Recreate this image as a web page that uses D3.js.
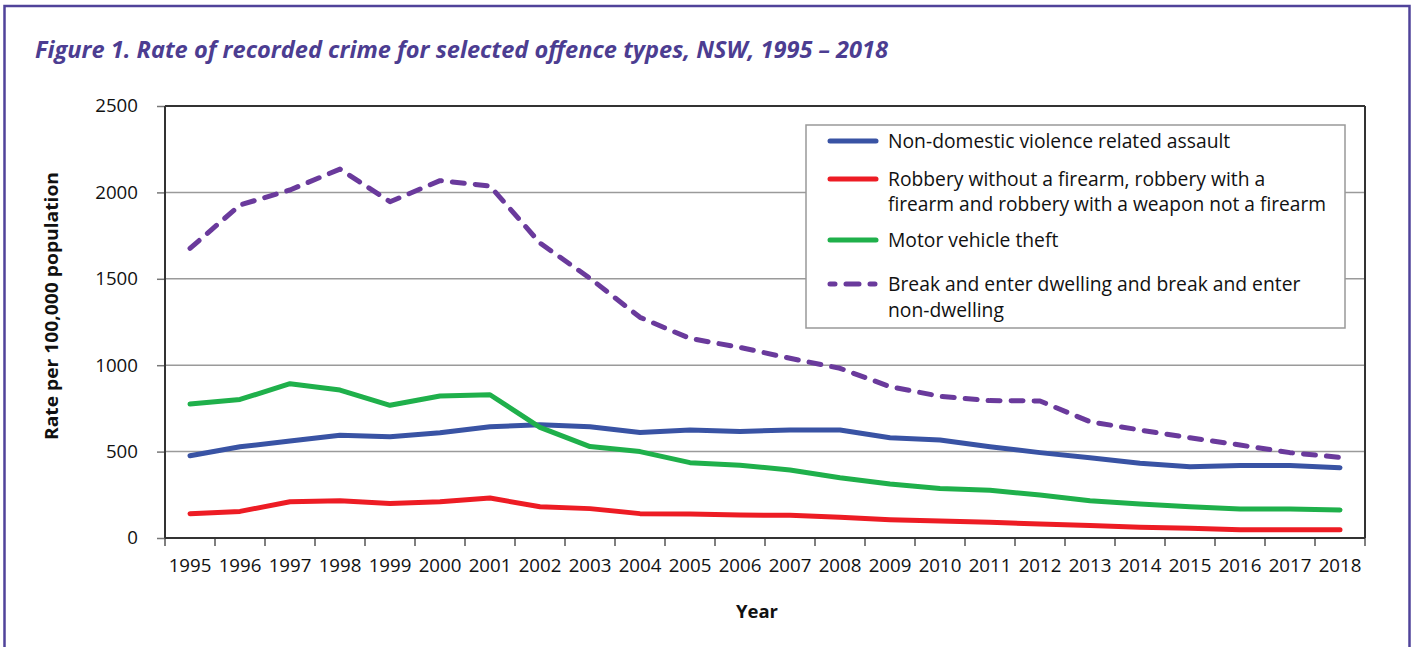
<!DOCTYPE html>
<html>
<head>
<meta charset="utf-8">
<script src="https://cdn.jsdelivr.net/npm/d3@7/dist/d3.min.js"></script>
<style>
  html, body { margin: 0; padding: 0; background: #ffffff; }
  svg { display: block; }
  text { font-family: "Open Sans", "Noto Sans", sans-serif; fill: #111; }
</style>
</head>
<body>
<svg id="chart" width="1415" height="647"></svg>
<script>
// ---------- data ----------
const years = [1995,1996,1997,1998,1999,2000,2001,2002,2003,2004,2005,2006,2007,2008,2009,2010,2011,2012,2013,2014,2015,2016,2017,2018];

const assault = [476,528,561,594,586,609,644,656,644,611,625,617,625,625,580,567,528,494,465,432,413,419,419,407];
const robbery = [141,154,210,216,199,210,231,181,170,141,139,133,131,120,106,98,91,81,73,62,56,48,48,48];
const motorVehicleTheft = [775,802,893,856,768,822,829,640,529,500,436,421,394,349,312,287,276,249,216,197,181,168,168,162];
const breakEnter = [1676,1927,2014,2135,1946,2068,2037,1707,1503,1277,1155,1103,1040,982,876,820,795,793,673,625,580,538,494,467];

const yTicks = [0,500,1000,1500,2000,2500];

const seriesNames = [
  ["Non-domestic violence related assault"],
  ["Robbery without a firearm, robbery with a", "firearm and robbery with a weapon not a firearm"],
  ["Motor vehicle theft"],
  ["Break and enter dwelling and break and enter", "non-dwelling"]
];
const seriesValues = [assault, robbery, motorVehicleTheft, breakEnter];

const titleText = "Figure 1. Rate of recorded crime for selected offence types, NSW, 1995 \u2013 2018";
const yAxisTitle = "Rate per 100,000 population";
const xAxisTitle = "Year";

// ---------- layout ----------
(function () {
const colors = ["#3953a4", "#ed1c24", "#1fb04b", "#6a3a9c"];
const dashed = [false, false, false, true];

const svg = d3.select("#chart");
const pL = 165, pR = 1365, pT = 106, pB = 538;

// outer frame
svg.append("rect")
  .attr("x", 4.5).attr("y", 6).attr("width", 1405).attr("height", 700)
  .attr("fill", "none").attr("stroke", "#50439a").attr("stroke-width", 2.5);

// title
svg.append("text")
  .attr("x", 35).attr("y", 58)
  .attr("textLength", 853).attr("lengthAdjust", "spacingAndGlyphs")
  .style("font-size", "24px").style("font-weight", "bold").style("font-style", "italic")
  .style("fill", "#4c3d91")
  .text(titleText);

const x = d3.scaleBand().domain(years).range([pL, pR]).paddingInner(0).paddingOuter(0);
const y = d3.scaleLinear().domain([0, 2500]).range([pB, pT]);

// gridlines
svg.append("g").selectAll("line").data(yTicks.filter(d => d > 0 && d < 2500)).join("line")
  .attr("x1", pL).attr("x2", pR)
  .attr("y1", d => y(d)).attr("y2", d => y(d))
  .attr("stroke", "#9a9a9a").attr("stroke-width", 1.5);

// y axis
const yAxis = d3.axisLeft(y).tickValues(yTicks).tickSize(8).tickPadding(19).tickFormat(d3.format("d"));
const gy = svg.append("g").attr("transform", `translate(${pL},0)`).call(yAxis);
gy.select(".domain").remove();
gy.selectAll(".tick line").attr("stroke", "#777").attr("stroke-width", 1.5);
gy.selectAll(".tick text").style("font-size", "18.7px").style("font-family", '"Open Sans", sans-serif').attr("fill", "#111");

// x axis (ticks at band boundaries, labels centered)
const boundaries = years.map(d => x(d)).concat([pR]);
svg.append("g").selectAll("line").data(boundaries).join("line")
  .attr("x1", d => d).attr("x2", d => d)
  .attr("y1", pB).attr("y2", pB + 8)
  .attr("stroke", "#555").attr("stroke-width", 1.5);
svg.append("g").selectAll("text").data(years).join("text")
  .attr("x", d => x(d) + x.bandwidth() / 2)
  .attr("y", 572)
  .attr("text-anchor", "middle")
  .style("font-size", "18.7px")
  .text(d => d);

// plot frame
[[pL, pT, pR, pT], [pR, pT, pR, pB], [pL, pT, pL, pB], [pL, pB, pR, pB]].forEach(s => {
  svg.append("line").attr("x1", s[0]).attr("y1", s[1]).attr("x2", s[2]).attr("y2", s[3])
    .attr("stroke", "#333").attr("stroke-width", 2);
});

// axis titles
svg.append("text")
  .attr("transform", `translate(58,306) rotate(-90)`)
  .attr("text-anchor", "middle")
  .attr("textLength", 268).attr("lengthAdjust", "spacingAndGlyphs")
  .style("font-size", "18.5px").style("font-weight", "bold")
  .text(yAxisTitle);
svg.append("text")
  .attr("x", 757).attr("y", 618)
  .attr("text-anchor", "middle")
  .style("font-size", "18.5px").style("font-weight", "bold")
  .text(xAxisTitle);

// lines
const line = d3.line()
  .x((d, i) => x(years[i]) + x.bandwidth() / 2)
  .y(d => y(d));

seriesValues.forEach((vals, k) => {
  svg.append("path")
    .datum(vals)
    .attr("d", line)
    .attr("fill", "none")
    .attr("stroke", colors[k])
    .attr("stroke-width", 5)
    .attr("stroke-linejoin", "round")
    .attr("stroke-linecap", "round")
    .attr("stroke-dasharray", dashed[k] ? "12,11" : null);
});

// legend
const lg = svg.append("g");
lg.append("rect").attr("x", 806).attr("y", 125).attr("width", 539).attr("height", 203)
  .attr("fill", "#fff").attr("stroke", "#999").attr("stroke-width", 1.5);
const legendRows = [141, 179, 240, 284];
const legendLineGap = [0, 25.5, 0, 26];
const legendMaxWidth = 438;
seriesNames.forEach((lines, k) => {
  const cy = legendRows[k];
  lg.append("line")
    .attr("x1", 830).attr("x2", 876).attr("y1", cy).attr("y2", cy)
    .attr("stroke", colors[k]).attr("stroke-width", 5)
    .attr("stroke-linecap", "round")
    .attr("stroke-dasharray", dashed[k] ? "5,11,13,11" : null);
  lines.forEach((t, j) => {
    const tx = lg.append("text")
      .attr("x", 888).attr("y", cy + 6.5 + j * legendLineGap[k])
      .style("font-size", "19.3px")
      .text(t);
    const w = tx.node().getComputedTextLength();
    if (w > legendMaxWidth) {
      tx.attr("textLength", legendMaxWidth).attr("lengthAdjust", "spacingAndGlyphs");
    }
  });
});
})();
</script>
</body>
</html>
